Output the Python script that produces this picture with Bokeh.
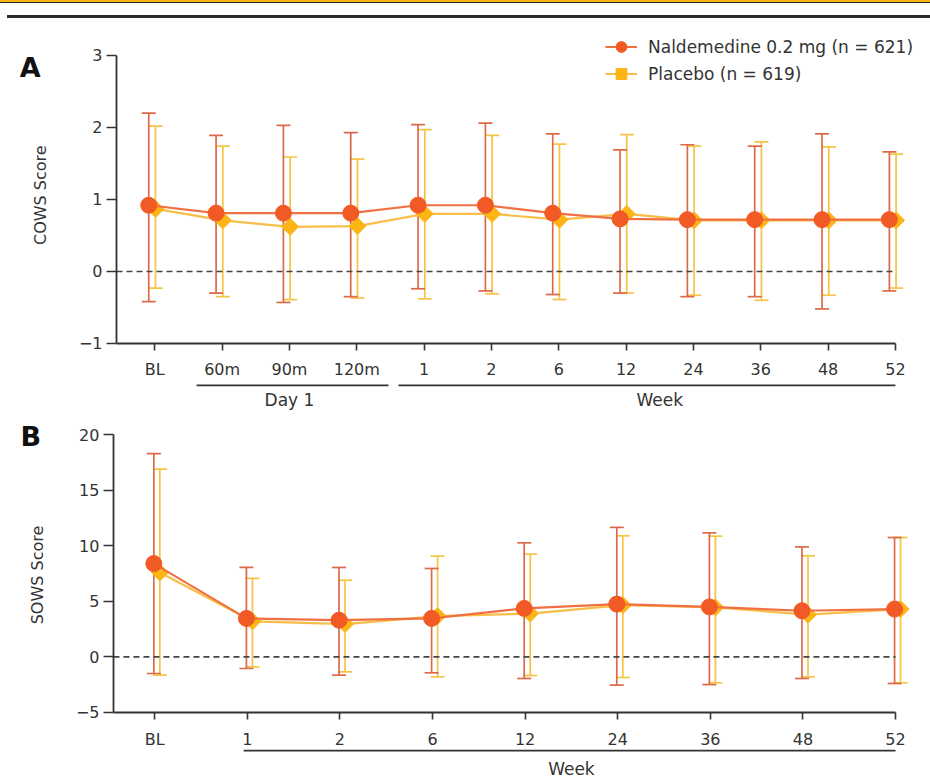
import math
from bokeh.plotting import figure
from bokeh.models import (ColumnDataSource, Whisker, TeeHead, Label, Legend,
                          LegendItem, FixedTicker, Div, Range1d)
from bokeh.layouts import column
from bokeh.core.properties import value
from bokeh.embed import file_html
from bokeh.resources import INLINE

# ---------------- Data ----------------
series_names = ["Naldemedine 0.2 mg (n = 621)", "Placebo (n = 619)"]

# Panel A: COWS score
cows_labels = ["BL", "60m", "90m", "120m", "1", "2", "6", "12", "24", "36", "48", "52"]
cows_groups = [("Day 1", 1, 3), ("Week", 4, 11)]
cows_nal_mean = [0.92, 0.81, 0.81, 0.81, 0.92, 0.92, 0.81, 0.73, 0.72, 0.72, 0.72, 0.72]
cows_nal_upper = [2.20, 1.89, 2.03, 1.93, 2.04, 2.06, 1.91, 1.69, 1.76, 1.74, 1.91, 1.66]
cows_nal_lower = [-0.42, -0.30, -0.43, -0.35, -0.24, -0.27, -0.32, -0.30, -0.35, -0.35, -0.52, -0.27]
cows_pla_mean = [0.87, 0.71, 0.62, 0.63, 0.80, 0.80, 0.72, 0.80, 0.71, 0.71, 0.71, 0.71]
cows_pla_upper = [2.02, 1.74, 1.59, 1.56, 1.97, 1.89, 1.77, 1.90, 1.74, 1.80, 1.73, 1.63]
cows_pla_lower = [-0.23, -0.35, -0.39, -0.37, -0.38, -0.31, -0.39, -0.30, -0.33, -0.40, -0.33, -0.23]

# Panel B: SOWS score
sows_labels = ["BL", "1", "2", "6", "12", "24", "36", "48", "52"]
sows_groups = [("Week", 1, 8)]
sows_nal_mean = [8.4, 3.46, 3.3, 3.46, 4.36, 4.75, 4.5, 4.15, 4.3]
sows_nal_upper = [18.3, 8.05, 8.05, 7.96, 10.27, 11.66, 11.17, 9.9, 10.75]
sows_nal_lower = [-1.5, -1.05, -1.65, -1.44, -1.95, -2.55, -2.5, -1.95, -2.4]
sows_pla_mean = [7.6, 3.2, 2.95, 3.67, 3.9, 4.65, 4.45, 3.8, 4.3]
sows_pla_upper = [16.9, 7.06, 6.9, 9.07, 9.25, 10.9, 10.87, 9.1, 10.75]
sows_pla_lower = [-1.65, -0.9, -1.35, -1.8, -1.68, -1.86, -2.34, -1.8, -2.34]

# ---------------- Styles ----------------
FONT = "DejaVu Sans"
TXT = "#333333"
NAL_FILL = "#F15A24"
NAL_LINE = "#F07042"
NAL_ERR = "#DC6A48"
PLA_FILL = "#FDB515"
PLA_LINE = "#F8BE48"
PLA_ERR = "#F5C445"


def make_panel(labels, nal, pla, groups, cfg):
    n = len(labels)
    xs, xe = cfg["x_range"]
    ys, ye = cfg["y_range"]
    ax_x = cfg["axis_x"]
    yt = cfg["y_ticks"]
    p = figure(width=930, height=cfg["height"],
               x_range=Range1d(xs, xe), y_range=Range1d(ys, ye),
               output_backend="svg", toolbar_location=None,
               min_border=0, min_border_left=0, min_border_right=0,
               min_border_top=0, min_border_bottom=0)
    p.outline_line_color = None
    p.xgrid.visible = False
    p.ygrid.visible = False
    p.background_fill_color = "white"
    p.border_fill_color = "white"

    # zero reference line
    p.segment(x0=[ax_x], y0=[0], x1=[n - 1], y1=[0], line_color="#444444",
              line_width=1.6, line_dash="6 4")

    srcs = {}
    for key, data, off, ec in (("pla", pla, cfg["pla_off"], PLA_ERR),
                               ("nal", nal, cfg["nal_off"], NAL_ERR)):
        mean, up, lo = data
        src = ColumnDataSource(dict(x=[i + off for i in range(n)],
                                    mean=mean, upper=up, lower=lo,
                                    ang=[math.pi / 4] * n))
        srcs[key] = src
        w = Whisker(source=src, base="x", upper="upper", lower="lower",
                    dimension="height", line_color=ec, line_width=1.7,
                    upper_head=TeeHead(size=14, line_color=ec, line_width=1.7),
                    lower_head=TeeHead(size=14, line_color=ec, line_width=1.7))
        p.add_layout(w)

    pl_line = p.line("x", "mean", source=srcs["pla"], line_color=PLA_LINE, line_width=2.2)
    pl_mark = p.scatter("x", "mean", source=srcs["pla"], marker="square",
                        angle="ang", size=12, fill_color=PLA_FILL,
                        line_color=PLA_FILL)
    nl_line = p.line("x", "mean", source=srcs["nal"], line_color=NAL_LINE, line_width=2.2)
    nl_mark = p.scatter("x", "mean", source=srcs["nal"], marker="circle",
                        size=16, fill_color=NAL_FILL, line_color=NAL_FILL)

    # axes (fixed inside the full-size frame)
    xa = p.xaxis[0]
    xa.ticker = FixedTicker(ticks=list(range(n)))
    xa.major_label_overrides = {i: lab for i, lab in enumerate(labels)}
    xa.fixed_location = yt[0]
    xa.bounds = (ax_x, n - 1)
    ya = p.yaxis[0]
    ya.ticker = FixedTicker(ticks=yt)
    ya.major_label_overrides = {t: (("\u2212" + str(-t)) if t < 0 else str(t)) for t in yt}
    ya.fixed_location = ax_x
    ya.bounds = (yt[0], yt[-1])
    for ax, tick_out, stand in ((xa, 7, cfg["x_standoff"]), (ya, 10, 4)):
        ax.axis_line_color = "#333333"
        ax.axis_line_width = 1.8
        ax.major_tick_line_color = "#333333"
        ax.major_tick_line_width = 1.6
        ax.major_tick_out = tick_out
        ax.major_tick_in = 0
        ax.minor_tick_line_color = None
        ax.major_label_text_font = FONT
        ax.major_label_text_font_size = "16px"
        ax.major_label_text_color = TXT
        ax.major_label_standoff = stand

    # y axis title
    tx, ty = cfg["y_label_pos"]
    p.text(x=[tx], y=[ty], text=[cfg["y_label"]], angle=math.pi / 2,
           text_align="center", text_baseline="middle", text_font=value(FONT),
           text_font_size="16px", text_color=TXT)

    # group underlines and labels
    padl, padr = cfg["group_pad"]
    for name, first, last in groups:
        p.segment(x0=[first - padl], y0=[cfg["underline_y"]],
                  x1=[min(last + padr, n - 1)], y1=[cfg["underline_y"]],
                  line_color="#333333", line_width=1.8)
        p.text(x=[(first + last) / 2], y=[cfg["group_label_y"]], text=[name],
               text_align="center", text_baseline="middle",
               text_font=value(FONT), text_font_size="17px", text_color=TXT)

    lx, ly = cfg["letter_pos"]
    p.add_layout(Label(x=lx, y=ly, text=cfg["letter"], text_font=FONT,
                       text_font_size="27px", text_font_style="bold",
                       text_color="#111111", text_align="center",
                       text_baseline="middle"))
    return p, (nl_line, nl_mark), (pl_line, pl_mark)


cfgA = dict(height=390, axis_x=-0.569,
            x_range=(-2.292, 11.521), y_range=(-1.931, 3.486),
            y_ticks=[-1, 0, 1, 2, 3], y_label="COWS Score", y_label_pos=(-1.70, 1.06),
            x_standoff=10, nal_off=-0.09, pla_off=0.01,
            underline_y=-1.583, group_label_y=-1.78, group_pad=(0.38, 0.47),
            letter="A", letter_pos=(-1.85, 2.83))
pA, nalA, plaA = make_panel(cows_labels,
                            (cows_nal_mean, cows_nal_upper, cows_nal_lower),
                            (cows_pla_mean, cows_pla_upper, cows_pla_lower),
                            cows_groups, cfgA)

legend = Legend(items=[LegendItem(label=series_names[0], renderers=list(nalA)),
                       LegendItem(label=series_names[1], renderers=list(plaA))],
                location=(605, 323), padding=0, spacing=0, glyph_width=32,
                glyph_height=27, label_standoff=11, label_height=27,
                label_text_font=FONT,
                label_text_font_size="17px", label_text_color=TXT,
                border_line_color=None, background_fill_alpha=0.0)
pA.add_layout(legend)

cfgB = dict(height=369, axis_x=-0.446,
            x_range=(-1.666, 8.378), y_range=(-11.05, 22.19),
            y_ticks=[-5, 0, 5, 10, 15, 20], y_label="SOWS Score", y_label_pos=(-1.27, 7.37),
            x_standoff=11, nal_off=-0.01, pla_off=0.055,
            underline_y=-8.44, group_label_y=-10.06, group_pad=(0.04, 0.03),
            letter="B", letter_pos=(-1.34, 19.85))
pB, _, _ = make_panel(sows_labels,
                      (sows_nal_mean, sows_nal_upper, sows_nal_lower),
                      (sows_pla_mean, sows_pla_upper, sows_pla_lower),
                      sows_groups, cfgB)

header = Div(text=('<div style="position:relative;width:930px;height:20px;">'
                   '<div style="position:absolute;left:0;top:0;width:930px;height:3px;'
                   'background:#F8B617;border-bottom:1px solid #222;"></div>'
                   '<div style="position:absolute;left:7px;top:15px;width:923px;height:3px;'
                   'background:#2a2a2a;"></div></div>'),
             width=930, height=20, margin=0)

layout = column(header, pA, pB, spacing=0)
open("out.html", "w").write(file_html(layout, INLINE))
